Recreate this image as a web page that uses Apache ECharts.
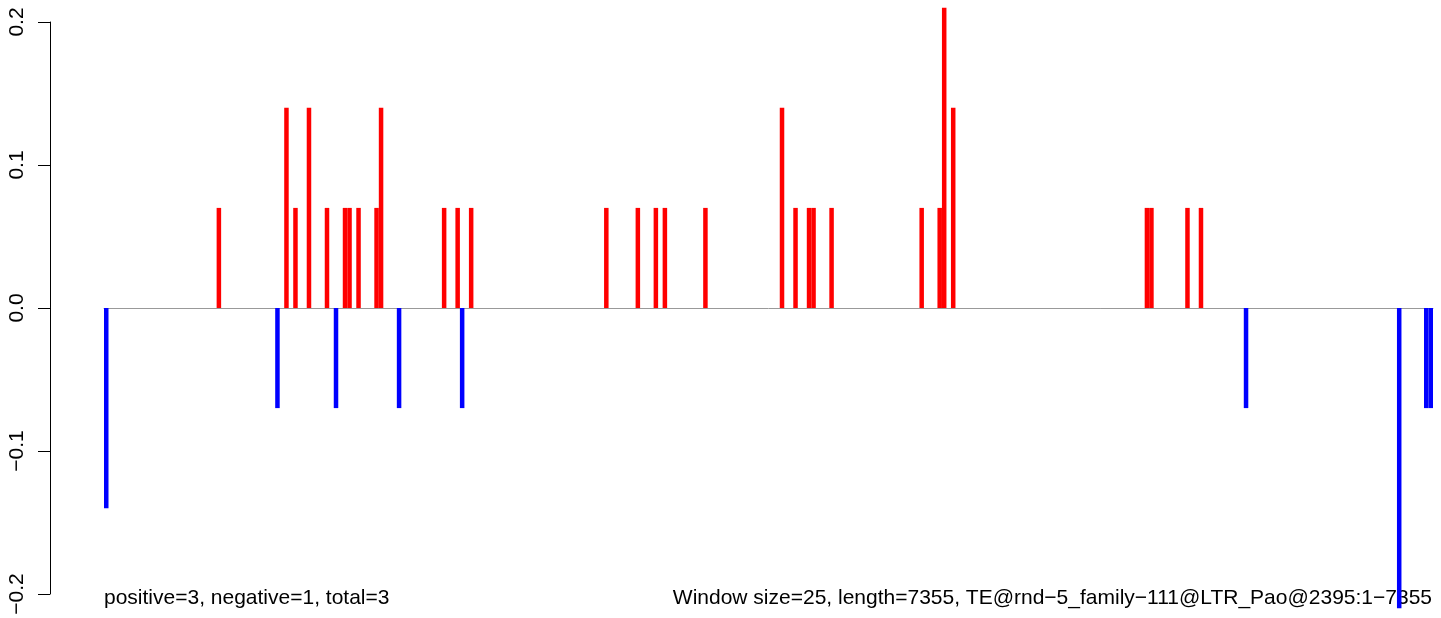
<!DOCTYPE html>
<html>
<head>
<meta charset="utf-8">
<script src="https://cdn.jsdelivr.net/npm/echarts@6/dist/echarts.min.js"></script>
<style>
html,body{margin:0;padding:0;background:#fff;}
#chart{width:1441px;height:618px;}
</style>
</head>
<body>
<div id="chart"></div>
<script>
// Number of windows (length 7355 / window size 25, rounded up)
const windowCount = 295;
// Windows (0-based index) with a non-zero score, and their scores
const posWindows = [25, 40, 42, 45, 49, 53, 54, 56, 60, 61, 75, 78, 81, 111, 118, 122, 124, 133, 150, 153, 156, 157, 161, 181, 185, 186, 188, 231, 232, 240, 243];
const posValues  = [0.07, 0.14, 0.07, 0.14, 0.07, 0.07, 0.07, 0.07, 0.07, 0.14, 0.07, 0.07, 0.07, 0.07, 0.07, 0.07, 0.07, 0.07, 0.14, 0.07, 0.07, 0.07, 0.07, 0.07, 0.07, 0.21, 0.14, 0.07, 0.07, 0.07, 0.07];
const negWindows = [0, 38, 51, 65, 79, 253, 287, 293, 294];
const negValues  = [-0.14, -0.07, -0.07, -0.07, -0.07, -0.07, -0.21, -0.07, -0.07];
const yTicks = [-0.2, -0.1, 0.0, 0.1, 0.2];
const leftNote = 'positive=3, negative=1, total=3';
const rightNote = 'Window size=25, length=7355, TE@rnd\u22125_family\u2212111@LTR_Pao@2395:1\u22127355';

const categories = [];
for (let i = 0; i < windowCount; i++) categories.push(String(i + 1));
const posData = new Array(windowCount).fill('-');
posWindows.forEach((w, k) => { posData[w] = posValues[k]; });
const negData = new Array(windowCount).fill('-');
negWindows.forEach((w, k) => { negData[w] = negValues[k]; });

const chart = echarts.init(document.getElementById('chart'), null, {renderer: 'canvas'});
const FONT = 'Liberation Sans, Arial, Helvetica, sans-serif';
chart.setOption({
  animation: false,
  backgroundColor: '#ffffff',
  grid: {left: 104, right: 8, top: 22, bottom: 24, containLabel: false},
  xAxis: {
    type: 'category',
    data: categories,
    boundaryGap: true,
    axisLine: {show: true, onZero: true, lineStyle: {color: '#999999', width: 1}},
    axisTick: {show: false},
    axisLabel: {show: false},
    splitLine: {show: false},
    z: 1
  },
  yAxis: {
    type: 'value',
    min: yTicks[0],
    max: yTicks[yTicks.length - 1],
    interval: 0.1,
    offset: 54,
    axisLine: {show: true, lineStyle: {color: '#000', width: 1}},
    axisTick: {show: true, length: 12, lineStyle: {color: '#000', width: 1}},
    splitLine: {show: false},
    axisLabel: {
      rotate: 90,
      margin: 22,
      fontSize: 21,
      fontFamily: FONT,
      color: '#000',
      formatter: v => v.toFixed(1).replace('-', '\u2212')
    }
  },
  series: [
    {
      name: 'positive', type: 'bar', data: posData, stack: 's',
      barCategoryGap: '0%', clip: false,
      itemStyle: {color: '#ff0000'}, z: 2
    },
    {
      name: 'negative', type: 'bar', data: negData, stack: 's',
      barCategoryGap: '0%', clip: false,
      itemStyle: {color: '#0000ff'}, z: 2
    }
  ],
  graphic: [
    {type: 'text', left: 104, top: 588, style: {text: leftNote, font: '21px ' + FONT, fill: '#000'}},
    {type: 'text', right: 9, top: 588, style: {text: rightNote, font: '21px ' + FONT, fill: '#000'}}
  ]
});
</script>
</body>
</html>
